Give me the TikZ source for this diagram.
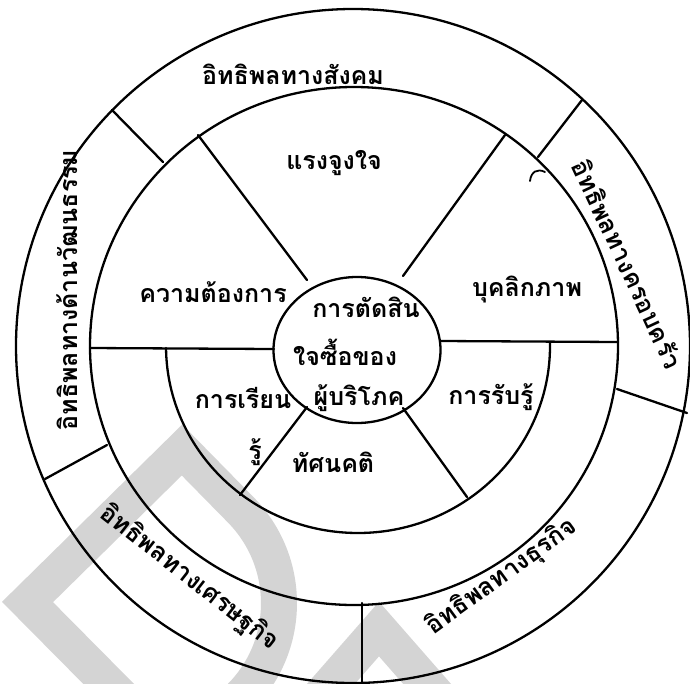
\documentclass[tikz,border=0pt]{standalone}
\usepackage{fontspec}
\newfontfamily\thai[Script=Thai]{Loma}
\definecolor{wmgray}{RGB}{212,212,212}
\begin{document}
\begin{tikzpicture}[x=1pt,y=-1pt, line cap=round, line join=round,
  ln/.style={line width=2.3pt},
  lbl/.style={font=\thai\bfseries\fontsize{25}{29}\selectfont, inner sep=0pt},
  wm/.style={draw=wmgray, line width=36pt, line join=miter, line cap=butt}]
\useasboundingbox (0,0) rectangle (690,683);
\fill[white] (0,0) rectangle (690,683);
% watermark
\begin{scope}
\clip (0,0) rectangle (690,683);
\draw[wm] (27.5,602) -- (182,450) -- (240.9,510) .. controls (292.3,562.5) and (291.6,646.6) .. (239.2,698) -- (180,756) -- cycle;
\draw[wm] (309,709) -- (379,629) -- (449,709);
\end{scope}
% circles
\coordinate (O) at (353,346);
\draw[ln] (O) circle [radius=337];
\draw[ln] (354,346) ellipse [x radius=264, y radius=259];
\draw[ln] (357,350) ellipse [x radius=83.5, y radius=73];
\draw[ln] (358,346) ++(179.4:192 and 187) arc [start angle=179.4, end angle=-0.9, x radius=192, y radius=187];
% horizontal lines
\coordinate (hl1) at (90,348); \coordinate (hl2) at (274,349);
\coordinate (hr1) at (441,341); \coordinate (hr2) at (618,342);
\draw[ln] (hl1) -- (hl2);
\draw[ln] (hr1) -- (hr2);
% spokes
\coordinate (a1) at (307,280); \coordinate (a2) at (198,135);
\coordinate (b1) at (403,276); \coordinate (b2) at (505,135);
\coordinate (c1) at (307,407); \coordinate (c2) at (240,495);
\coordinate (d1) at (403,408); \coordinate (d2) at (467,497);
\draw[ln] (a1) -- (a2);
\draw[ln] (b1) -- (b2);
\draw[ln] (c1) -- (c2);
\draw[ln] (d1) -- (d2);
% outer dividers
\coordinate (e1) at (112,110); \coordinate (e2) at (163,162);
\coordinate (f1) at (582,100); \coordinate (f2) at (538,157);
\coordinate (g1) at (45,479); \coordinate (g2) at (107,445);
\coordinate (h1) at (687,413); \coordinate (h2) at (617,389);
\coordinate (k1) at (362,603); \coordinate (k2) at (362,683);
\draw[ln] (e1) -- (e2);
\draw[ln] (f1) -- (f2);
\draw[ln] (g1) -- (g2);
\draw[ln] (h1) -- (h2);
\draw[ln] (k1) -- (k2);
% stray mark
\draw[line width=1.8pt] (530,181) .. controls (531,172) and (537,168) .. (545,172);
% outer ring labels
\node[lbl] (t1) at (293,74) {อิทธิพลทางสังคม};
\node[lbl, rotate=90] (t2) at (67,290) {อิทธิพลทางด้านวัฒนธรรม};
\node[lbl, rotate=-65] (t3) at (628,264) {อิทธิพลทางครอบครัว};
\node[lbl, rotate=-38] (t4) at (189,578) {อิทธิพลทางเศรษฐกิจ};
\node[lbl, rotate=36] (t5) at (502,577) {อิทธิพลทางธุรกิจ};
% sector labels
\node[lbl] (s1) at (334,163) {แรงจูงใจ};
\node[lbl] (s2) at (213,292) {ความต้องการ};
\node[lbl] (s3) at (527,290) {บุคลิกภาพ};
\node[lbl] (s4) at (243,398) {การเรียน};
\node[lbl] (s4b) at (255,452) {รู้};
\node[lbl] (s5) at (333,462) {ทัศนคติ};
\node[lbl] (s6) at (491,397) {การรับรู้};
% centre
\node[lbl] (m1) at (366,307) {การตัดสิน};
\node[lbl] (m2) at (345,352) {ใจซื้อของ};
\node[lbl] (m3) at (359,398) {ผู้บริโภค};
\end{tikzpicture}
\end{document}
